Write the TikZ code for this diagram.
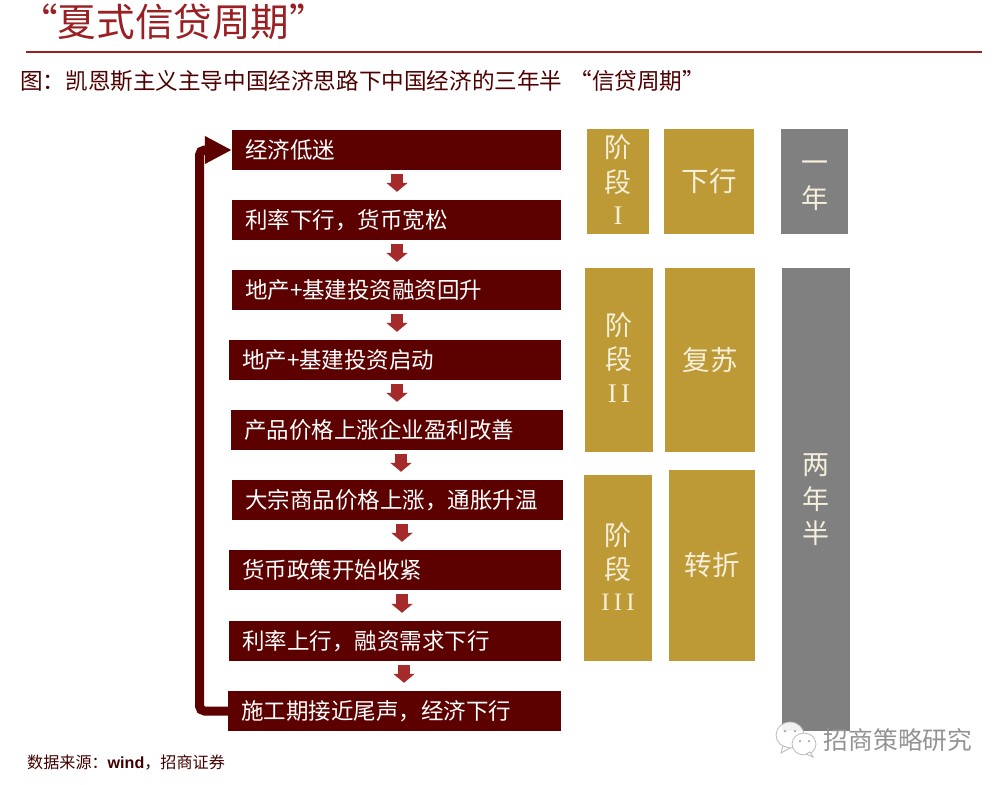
\documentclass[tikz,border=0pt]{standalone}
\usepackage{fontspec}
\setmainfont{Noto Sans CJK SC}
\newfontfamily\latinbold{Liberation Sans}[BoldFont={Liberation Sans Bold}]
\newfontfamily\romanfont{Liberation Serif}
\usetikzlibrary{arrows.meta}
\newcommand{\pxfont}[1]{\fontsize{#1}{#1}\selectfont}
\definecolor{boxred}{HTML}{5C0000}
\definecolor{arrowred}{HTML}{A52A2A}
\definecolor{titlered}{HTML}{9A1F22}
\definecolor{gold}{HTML}{BD9A35}
\definecolor{barsgray}{HTML}{808080}
\definecolor{cream}{HTML}{F5EFDC}
\tikzset{
  flowbox/.style={fill=boxred,text=white,inner ysep=0pt,inner xsep=13pt,minimum height=40pt,
    align=left,anchor=center,font=\pxfont{22.5}},
  goldbox/.style={fill=gold,text=cream,inner sep=0pt,font=\pxfont{27.5},align=center},
  graybox/.style={fill=barsgray,text=cream,inner sep=0pt,font=\pxfont{27},align=center},
  flowdown/.style={draw=arrowred,line width=12pt,-{Triangle[length=9pt,width=21pt]},shorten <=4pt,shorten >=8pt},
  backline/.style={draw=boxred,line width=9pt,rounded corners=5pt,-{Triangle[length=27pt,width=26pt]}},
  stagelabel/.style={font=\pxfont{27},text=cream,inner sep=0pt},
  wmbubble/.style={draw=gray!55,fill=white,line width=0.8pt},
  wmeye/.style={fill=gray!70,inner sep=0pt,circle,minimum size=2.5pt},
}
\begin{document}
\begin{tikzpicture}[x=1pt,y=-1pt]
\useasboundingbox (0,0) rectangle (1005,785);
\fill[white] (0,0) rectangle (1005,785);

% header
\node[anchor=west,inner sep=0pt,text=titlered,font=\pxfont{38.6}] (title) at (19,22) {“夏式信贷周期”};
\coordinate (ruleL) at (26,52);
\coordinate (ruleR) at (982,52);
\draw[titlered,line width=1.6pt] (ruleL) -- (ruleR);
\node[anchor=west,inner sep=0pt,text=boxred!85!black,font=\pxfont{22.6}] (subtitle) at (20,81) {图：凯恩斯主义主导中国经济思路下中国经济的三年半\kern7pt“信贷周期”};

% flow boxes
\node[flowbox,text width=303pt] (n1) at (396.5,150) {经济低迷};
\node[flowbox,text width=303pt] (n2) at (396.5,220) {利率下行，货币宽松};
\node[flowbox,text width=303pt] (n3) at (396.5,290) {地产+基建投资融资回升};
\node[flowbox,text width=306pt] (n4) at (395,360) {地产+基建投资启动};
\node[flowbox,text width=306pt] (n5) at (397,430) {产品价格上涨企业盈利改善};
\node[flowbox,text width=305pt] (n6) at (397.5,500) {大宗商品价格上涨，通胀升温};
\node[flowbox,text width=306pt] (n7) at (395,570) {货币政策开始收紧};
\node[flowbox,text width=306pt] (n8) at (395,641) {利率上行，融资需求下行};
\node[flowbox,text width=307pt] (n9) at (394.5,711) {施工期接近尾声，经济下行};

% small arrows
\draw[flowdown] ([xshift=0.5pt]n1.south) -- ([xshift=0.5pt]n2.north);
\draw[flowdown] ([xshift=0.5pt]n2.south) -- ([xshift=0.5pt]n3.north);
\draw[flowdown] ([xshift=0.5pt]n3.south) -- ([xshift=2pt]n4.north);
\draw[flowdown] ([xshift=2pt]n4.south) -- (n5.north);
\draw[flowdown] ([xshift=4pt]n5.south) -- ([xshift=3.5pt]n6.north);
\draw[flowdown] ([xshift=4.5pt]n6.south) -- ([xshift=7pt]n7.north);
\draw[flowdown] ([xshift=7pt]n7.south) -- ([xshift=7pt]n8.north);
\draw[flowdown] ([xshift=9pt]n8.south) -- ([xshift=9.5pt]n9.north);

% return line
\coordinate (rail) at (199.5,430);
\draw[backline] (n9.west) -| (rail) |- (n1.west);

% stage columns
\node[goldbox,minimum width=62pt,minimum height=105pt] (s1) at (618,181.5) {};
\node[goldbox,minimum width=90pt,minimum height=105pt] (p1) at (709,181.5) {下行};
\node[graybox,minimum width=67pt,minimum height=105pt] (y1) at (814.5,181.5) {};
\node[goldbox,minimum width=68pt,minimum height=184pt] (s2) at (619,360) {};
\node[goldbox,minimum width=90pt,minimum height=184pt] (p2) at (710,360) {复苏};
\node[goldbox,minimum width=68pt,minimum height=186pt] (s3) at (618,568) {};
\node[goldbox,minimum width=86pt,minimum height=191pt] (p3) at (712,565.5) {转折};
\node[graybox,minimum width=68pt,minimum height=463pt] (y2) at (816,499.5) {};

% stage labels
\node[stagelabel] (s1a) at (618,147) {阶};
\node[stagelabel] (s1b) at (618,182) {段};
\node[stagelabel,font=\romanfont\pxfont{27}] (s1c) at (618,216) {I};
\node[stagelabel] (s2a) at (619,325) {阶};
\node[stagelabel] (s2b) at (619,359) {段};
\node[stagelabel,font=\romanfont\pxfont{27}] (s2c) at (619,394) {I\,I};
\node[stagelabel] (s3a) at (618,535) {阶};
\node[stagelabel] (s3b) at (618,569) {段};
\node[stagelabel,font=\romanfont\pxfont{25}] (s3c) at (618,602) {I\,I\,I};
\node[stagelabel] (y1a) at (815,167) {一};
\node[stagelabel] (y1b) at (815,198) {年};
\node[stagelabel] (y2a) at (816,465) {两};
\node[stagelabel] (y2b) at (816,499) {年};
\node[stagelabel] (y2c) at (816,533) {半};

% watermark
\path[wmbubble,fill opacity=0.9] (790,735) ellipse [x radius=14pt,y radius=13pt];
\path[wmbubble,fill opacity=0.9] (783,746) -- (781,753) -- (790,748) -- cycle;
\node[wmeye] (e1) at (785,731) {};
\node[wmeye] (e2) at (795,731) {};
\path[wmbubble] (804,744) ellipse [x radius=12pt,y radius=11pt];
\path[wmbubble] (810,752) -- (813,757) -- (806,754) -- cycle;
\node[wmeye] (e3) at (800,741) {};
\node[wmeye] (e4) at (809,741) {};
\node[anchor=center,inner sep=0pt,text=gray!85,font=\pxfont{24.7}] (wm) at (898,740) {招商策略研究};

% source
\node[anchor=west,inner sep=0pt,text=boxred!70!black,font=\pxfont{16.1}] (source) at (27,763) {数据来源：{\latinbold\bfseries wind}，招商证券};
\end{tikzpicture}
\end{document}
